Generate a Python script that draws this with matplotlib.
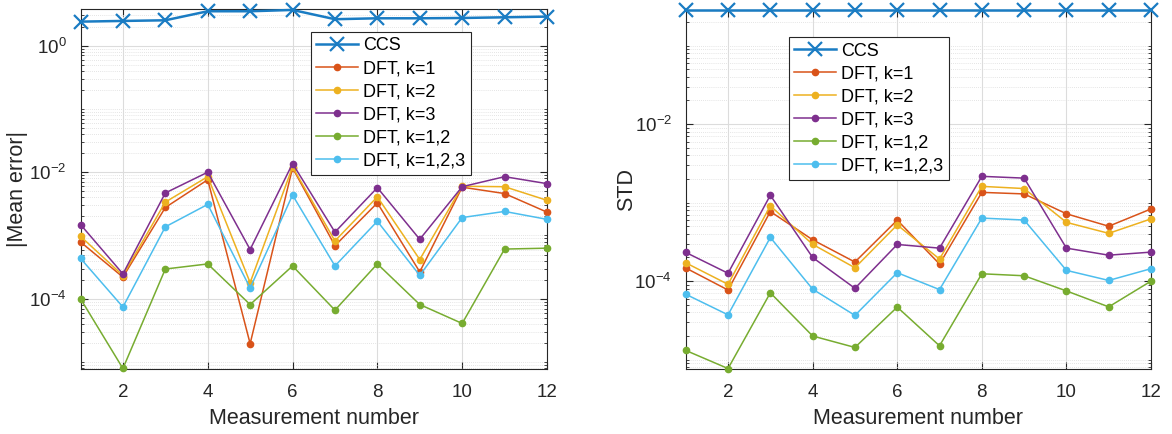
import matplotlib
matplotlib.use('Agg')
import matplotlib.pyplot as plt
import numpy as np
from matplotlib.ticker import LogLocator, NullFormatter

plt.rcParams['font.family'] = ['Liberation Sans', 'DejaVu Sans']

meas = np.arange(1, 13)
labels = ['CCS', 'DFT, k=1', 'DFT, k=2', 'DFT, k=3', 'DFT, k=1,2', 'DFT, k=1,2,3']
colors = ['#1a7cc3', '#D95319', '#EDB120', '#7E2F8E', '#77AC30', '#4DBEEE']

# |Mean error|
err_ccs = [2.40, 2.46, 2.52, 3.50, 3.50, 3.67, 2.62, 2.71, 2.71, 2.74, 2.81, 2.88]
err_k1 = [7.9e-4, 2.2e-4, 2.77e-3, 7.6e-3, 1.95e-5, 1.17e-2, 6.9e-4, 3.27e-3, 2.66e-4, 5.8e-3, 4.6e-3, 2.34e-3]
err_k2 = [9.7e-4, 2.33e-4, 3.37e-3, 8.5e-3, 1.8e-4, 1.21e-2, 8.2e-4, 4.08e-3, 4.17e-4, 6.0e-3, 5.9e-3, 3.6e-3]
err_k3 = [1.49e-3, 2.47e-4, 4.7e-3, 1.0e-2, 6.0e-4, 1.37e-2, 1.13e-3, 5.7e-3, 8.7e-4, 5.9e-3, 8.5e-3, 6.6e-3]
err_k12 = [1.0e-4, 7.9e-6, 2.95e-4, 3.55e-4, 8.1e-5, 3.3e-4, 6.6e-5, 3.56e-4, 8.1e-5, 4.07e-5, 6.1e-4, 6.3e-4]
err_k123 = [4.35e-4, 7.4e-5, 1.37e-3, 3.1e-3, 1.48e-4, 4.35e-3, 3.3e-4, 1.68e-3, 2.34e-4, 1.92e-3, 2.4e-3, 1.8e-3]

# STD
std_ccs = [0.287] * 12
std_k1 = [1.47e-4, 7.7e-5, 7.7e-4, 3.36e-4, 1.75e-4, 5.98e-4, 1.65e-4, 1.35e-3, 1.29e-3, 7.2e-4, 5.0e-4, 8.3e-4]
std_k2 = [1.71e-4, 9.1e-5, 9.1e-4, 2.94e-4, 1.48e-4, 5.2e-4, 1.91e-4, 1.61e-3, 1.51e-3, 5.6e-4, 4.06e-4, 6.2e-4]
std_k3 = [2.32e-4, 1.26e-4, 1.24e-3, 2.0e-4, 8.1e-5, 2.93e-4, 2.63e-4, 2.16e-3, 2.05e-3, 2.63e-4, 2.14e-4, 2.34e-4]
std_k12 = [1.31e-5, 7.7e-6, 7.1e-5, 2.0e-5, 1.43e-5, 4.67e-5, 1.5e-5, 1.24e-4, 1.17e-4, 7.5e-5, 4.7e-5, 1.0e-4]
std_k123 = [6.8e-5, 3.72e-5, 3.6e-4, 7.9e-5, 3.66e-5, 1.28e-4, 7.8e-5, 6.35e-4, 6.0e-4, 1.37e-4, 1.02e-4, 1.44e-4]

fig = plt.figure(figsize=(11.72, 4.34), dpi=100)
ax1 = fig.add_axes([0.0687, 0.1498, 0.398, 0.8288])
ax2 = fig.add_axes([0.5851, 0.1498, 0.397, 0.8283])

axcol = '#262626'


def draw(ax, series, ylim, ylabel, leg_xy, ylpad):
    for i, (vals, lab, col) in enumerate(zip(series, labels, colors)):
        if i == 0:
            ax.plot(meas, vals, color=col, lw=1.8, marker='x', ms=10, mew=1.6,
                    label=lab, clip_on=False, zorder=4)
        else:
            ax.plot(meas, vals, color=col, lw=1.1, marker='.', ms=9,
                    label=lab, clip_on=False, zorder=3)
    ax.set_yscale('log')
    ax.set_xlim(1, 12)
    ax.set_ylim(*ylim)
    ax.set_xticks(np.arange(2, 13, 2))
    ax.yaxis.set_major_locator(LogLocator(base=100, numticks=10))
    ax.yaxis.set_minor_locator(LogLocator(base=10, subs=np.arange(1, 10), numticks=40))
    ax.yaxis.set_minor_formatter(NullFormatter())
    ax.grid(True, which='major', color='#dcdcdc', lw=0.8)
    ax.grid(True, which='minor', axis='y', color='#dcdcdc', lw=0.6, ls=(0, (1, 1.5)))
    ax.set_axisbelow(True)
    ax.tick_params(which='both', direction='in', top=True, right=True,
                   colors=axcol, labelsize=13.5)
    ax.tick_params(which='major', length=5)
    ax.tick_params(which='minor', length=2.5)
    ax.tick_params(axis='x', which='major', pad=11)
    ax.tick_params(axis='y', which='major', pad=10)
    for s in ax.spines.values():
        s.set_color(axcol)
        s.set_linewidth(0.8)
    ax.set_xlabel('Measurement number', fontsize=15.5, color=axcol, labelpad=5)
    ax.set_ylabel(ylabel, fontsize=15.5, color=axcol, labelpad=ylpad)
    leg = ax.legend(loc='upper left', bbox_to_anchor=leg_xy, borderaxespad=0,
                    fontsize=13, fancybox=False, framealpha=1, edgecolor=axcol,
                    handlelength=2.3, handletextpad=0.3, labelspacing=0.33,
                    borderpad=0.3)
    leg.get_frame().set_linewidth(0.8)
    leg.set_zorder(10)


draw(ax1, [err_ccs, err_k1, err_k2, err_k3, err_k12, err_k123],
     (7.76e-6, 3.76), '|Mean error|', (0.494, 0.937), 1)
draw(ax2, [std_ccs, std_k1, std_k2, std_k3, std_k12, std_k123],
     (7.6e-6, 0.288), 'STD', (0.222, 0.923), -2)

fig.savefig('out.png', dpi=100)
